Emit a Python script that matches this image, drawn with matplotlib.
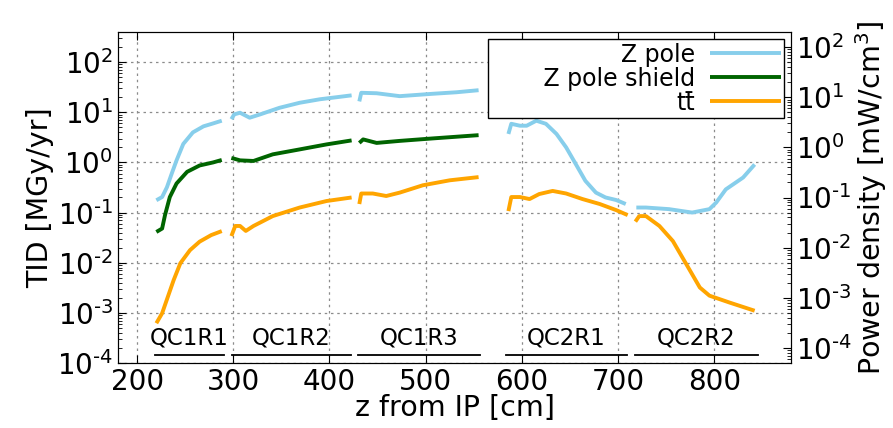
import numpy as np
import matplotlib.pyplot as plt
from matplotlib import transforms
from matplotlib.ticker import LogLocator, FixedLocator, FixedFormatter

# magnet sections along the beam line
seg_names = ['QC1R1', 'QC1R2', 'QC1R3', 'QC2R1', 'QC2R2']
seg_start = [219, 299, 430, 583, 718]
seg_end = [290, 422, 556, 709, 845]

# log tick decades (both y axes)
decades = [-4, -3, -2, -1, 0, 1, 2]
dec_labels = [r'$\mathdefault{10^{\text{-}%d}}$' % -d if d < 0 else r'$\mathdefault{10^{%d}}$' % d
              for d in decades]

# Z pole, TID in MGy/yr (one list per magnet, gaps between them)
zpole_z = [
    [220, 226, 231, 236, 241, 248, 258, 269, 279, 288],
    [298, 301, 307, 317, 328, 348, 369, 390, 411, 423],
    [431, 433, 449, 473, 507, 532, 555],
    [586, 589, 598, 605, 615, 625, 636, 646, 656, 666, 677, 687, 698, 708],
    [719, 729, 753, 777, 795, 802, 812, 830, 842],
]
zpole_tid = [
    [0.176, 0.204, 0.32, 0.60, 1.10, 2.34, 3.98, 5.25, 6.0, 6.8],
    [7.3, 9.1, 9.8, 7.8, 9.1, 12.3, 15.5, 18.2, 20.4, 21.8],
    [16.5, 24.5, 24.0, 21.0, 23.4, 25.1, 27.6],
    [3.7, 5.9, 5.4, 5.4, 6.8, 5.9, 3.7, 2.0, 0.93, 0.43, 0.25, 0.20, 0.178, 0.148],
    [0.126, 0.126, 0.117, 0.100, 0.117, 0.158, 0.29, 0.50, 0.91],
]

# Z pole shield
shield_z = [
    [220, 226, 229, 234, 241, 252, 265, 279, 288],
    [298, 307, 321, 341, 369, 397, 423],
    [431, 435, 449, 473, 508, 555],
]
shield_tid = [
    [0.041, 0.048, 0.089, 0.204, 0.38, 0.65, 0.87, 1.0, 1.12],
    [1.23, 1.10, 1.07, 1.45, 1.82, 2.29, 2.75],
    [2.45, 2.88, 2.45, 2.69, 3.02, 3.5],
]

# ttbar
tt_z = [
    [220, 226, 232, 238, 245, 255, 265, 277, 288],
    [298, 302, 307, 313, 321, 341, 369, 397, 423],
    [431, 433, 445, 459, 473, 497, 525, 555],
    [586, 589, 598, 608, 618, 632, 646, 663, 681, 698, 710],
    [718, 722, 729, 743, 757, 771, 785, 795, 816, 842],
]
tt_tid = [
    [0.00062, 0.00098, 0.0021, 0.0045, 0.0098, 0.0178, 0.0263, 0.0355, 0.0427],
    [0.034, 0.054, 0.054, 0.043, 0.054, 0.085, 0.126, 0.17, 0.20],
    [0.148, 0.24, 0.24, 0.214, 0.25, 0.35, 0.44, 0.51],
    [0.107, 0.204, 0.204, 0.186, 0.234, 0.27, 0.24, 0.186, 0.148, 0.112, 0.089],
    [0.066, 0.085, 0.085, 0.054, 0.027, 0.0093, 0.0032, 0.0022, 0.0016, 0.0011],
]

fig = plt.figure(figsize=(8.93, 4.28), dpi=100)
ax = fig.add_axes([0.132, 0.152, 0.754, 0.773])

series = [
    ('Z pole', zpole_z, zpole_tid, '#87ceeb'),
    ('Z pole shield', shield_z, shield_tid, '#006400'),
    ('tt\u0304', tt_z, tt_tid, '#ffa500'),
]
handles = []
for label, zs, vals, col in series:
    for i in range(len(zs)):
        ln, = ax.plot(zs[i], vals[i], color=col, lw=2.8, solid_capstyle='butt')
    handles.append(ln)

def log_axis(a):
    a.set_yscale('log')
    a.yaxis.set_major_locator(FixedLocator([10.0 ** d for d in decades]))
    a.yaxis.set_major_formatter(FixedFormatter(dec_labels))
    a.yaxis.set_minor_locator(LogLocator(base=10, subs=np.arange(2, 10), numticks=20))

log_axis(ax)
ax.set_xlim(180, 880)
ax.set_ylim(1e-4, 10**2.6)
ax.set_xticks([200, 300, 400, 500, 600, 700, 800])
ax.grid(True, which='major', ls=(0, (2, 3)), color='0.55', lw=0.9)
ax.tick_params(which='both', direction='in', top=True, right=False, labelsize=20)
ax.tick_params(which='major', length=6)
ax.tick_params(which='minor', length=3)
ax.set_xlabel('z from IP [cm]', fontsize=20.5, labelpad=-1)
ax.set_ylabel('TID [MGy/yr]', fontsize=20.5, labelpad=2)

# magnet section markers
trans = transforms.blended_transform_factory(ax.transData, ax.transAxes)
for name, a, b in zip(seg_names, seg_start, seg_end):
    ax.plot([a, b], [0.024, 0.024], color='black', lw=1.3, transform=trans, clip_on=False)
    ax.text((a + b) / 2, 0.04, name, transform=trans, ha='center', va='bottom', fontsize=16.5)

ax2 = ax.twinx()
log_axis(ax2)
ax2.set_ylim(10**-4.3, 10**2.3)
ax2.tick_params(which='both', direction='in', labelsize=20)
ax2.tick_params(which='major', length=6)
ax2.tick_params(which='minor', length=3)
ax2.set_ylabel('Power density [mW/cm$^3$]', fontsize=20.5, labelpad=1)

leg_labels = ['Z pole', '       Z pole shield', 'tt\u0304']
leg = ax2.legend(handles, leg_labels, loc='upper right', fontsize=17,
                 markerfirst=False, fancybox=False, framealpha=1, edgecolor='black',
                 handlelength=3.0, borderaxespad=0.3, labelspacing=0.0,
                 borderpad=0.15, handletextpad=0.6)
leg.get_frame().set_linewidth(1.0)

fig.savefig('out.png', dpi=100)
